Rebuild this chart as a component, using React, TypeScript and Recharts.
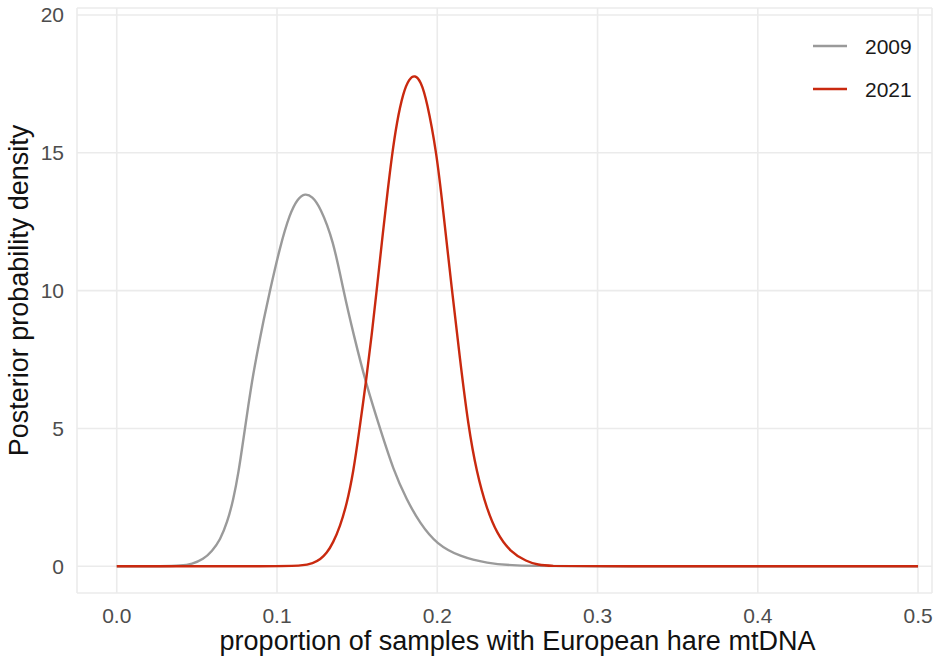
import React from "react";
import { LineChart, Line, XAxis, YAxis, CartesianGrid, Legend, Label } from "recharts";

// proportion of samples with European hare mtDNA (x) vs posterior density (y)
const x2009 = [0, 0.03, 0.04, 0.047, 0.054, 0.0595, 0.0645, 0.069, 0.0727, 0.076, 0.079, 0.082, 0.0852, 0.0885, 0.0915, 0.0956, 0.1019, 0.108, 0.113, 0.1175, 0.122, 0.1268, 0.1351, 0.1414, 0.1476, 0.156, 0.1643, 0.1726, 0.1809, 0.1892, 0.1996, 0.2142, 0.2308, 0.2495, 0.27, 0.5];
const y2009 = [0, 0, 0.02, 0.08, 0.25, 0.55, 0.95, 1.6, 2.4, 3.4, 4.6, 5.8, 7.0, 8.0, 8.9, 10.0, 11.6, 12.8, 13.35, 13.53, 13.42, 13.05, 11.84, 10.0, 8.45, 6.52, 5.0, 3.49, 2.41, 1.56, 0.8, 0.35, 0.11, 0.02, 0, 0];

const x2021 = [0, 0.105, 0.115, 0.1227, 0.127, 0.131, 0.135, 0.1393, 0.1435, 0.1476, 0.1513, 0.156, 0.1591, 0.1618, 0.1653, 0.1694, 0.1716, 0.1747, 0.1788, 0.1825, 0.1861, 0.1897, 0.1934, 0.1996, 0.2035, 0.209, 0.2142, 0.2193, 0.2246, 0.2308, 0.2371, 0.2454, 0.2558, 0.263, 0.2703, 0.29, 0.5];
const y2021 = [0, 0, 0.02, 0.11, 0.25, 0.47, 0.85, 1.44, 2.25, 3.4, 4.9, 6.9, 8.4, 9.8, 11.7, 13.8, 14.85, 16.1, 17.2, 17.7, 17.83, 17.6, 16.92, 15.0, 13.0, 10.1, 7.5, 5.1, 3.4, 2.1, 1.2, 0.53, 0.17, 0.05, 0.01, 0, 0];

const xTicks = [0, 0.1, 0.2, 0.3, 0.4, 0.5];
const yTicks = [0, 5, 10, 15, 20];

const seriesNames = ["2009", "2021"];
const seriesColors = ["#9a9a9a", "#c9290f"];

const toPoints = (xs: number[], ys: number[]) => xs.map((x, i) => ({ x, y: ys[i] }));
const data2009 = toPoints(x2009, y2009);
const data2021 = toPoints(x2021, y2021);

const FONT = '"Liberation Sans", Arial, Helvetica, sans-serif';

const LegendContent = () => (
  <div style={{ fontFamily: FONT }}>
    {seriesNames.map((name, i) => (
      <div key={name} style={{ display: "flex", alignItems: "center", height: 43 }}>
        <svg width={34} height={4} style={{ display: "block" }}>
          <line x1={0} y1={2} x2={34} y2={2} stroke={seriesColors[i]} strokeWidth={2.6} />
        </svg>
        <span style={{ marginLeft: 18, fontSize: 21, color: "#1a1a1a", lineHeight: "43px" }}>{name}</span>
      </div>
    ))}
  </div>
);

export default function App() {
  return (
    <div style={{ position: "absolute", left: 0, top: 0, width: 939, height: 658, background: "#fff" }}>
      <LineChart width={939} height={658} margin={{ top: 8, right: 7, bottom: 0, left: 0 }}>
        <CartesianGrid stroke="#ebebeb" strokeWidth={1.6} />
        <XAxis
          type="number"
          dataKey="x"
          domain={[-0.0248, 0.5087]}
          allowDataOverflow
          ticks={xTicks}
          tickFormatter={(v: number) => v.toFixed(1)}
          axisLine={false}
          tickLine={false}
          tickSize={0}
          tickMargin={15}
          height={65}
          tick={{ fill: "#4d4d4d", fontSize: 21, fontFamily: FONT }}
        >
          <Label
            content={(props: any) => {
              const vb = props.viewBox || {};
              return (
                <text
                  x={vb.x + vb.width / 2 + 13}
                  y={vb.y + 57}
                  textAnchor="middle"
                  fontSize={27}
                  fontFamily={FONT}
                  fill="#111"
                >
                  proportion of samples with European hare mtDNA
                </text>
              );
            }}
          />
        </XAxis>
        <YAxis
          type="number"
          dataKey="y"
          domain={[-0.969, 20.254]}
          allowDataOverflow
          ticks={yTicks}
          axisLine={false}
          tickLine={false}
          tickSize={0}
          tickMargin={13}
          width={77}
          tick={{ fill: "#4d4d4d", fontSize: 21, fontFamily: FONT }}
        >
          <Label
            content={(props: any) => {
              const vb = props.viewBox || {};
              const cy = vb.y + vb.height / 2 - 10;
              return (
                <text
                  x={28}
                  y={cy}
                  transform={`rotate(-90, 28, ${cy})`}
                  textAnchor="middle"
                  fontSize={27}
                  fontFamily={FONT}
                  fill="#111"
                >
                  Posterior probability density
                </text>
              );
            }}
          />
        </YAxis>
        <Legend
          layout="vertical"
          align="center"
          verticalAlign="middle"
          wrapperStyle={{ left: 813, top: 24.5, width: 120 }}
          content={<LegendContent />}
        />
        <Line
          data={data2009}
          dataKey="y"
          name={seriesNames[0]}
          type="basis"
          stroke={seriesColors[0]}
          strokeWidth={2.4}
          dot={false}
          activeDot={false}
          isAnimationActive={false}
        />
        <Line
          data={data2021}
          dataKey="y"
          name={seriesNames[1]}
          type="basis"
          stroke={seriesColors[1]}
          strokeWidth={2.4}
          dot={false}
          activeDot={false}
          isAnimationActive={false}
        />
      </LineChart>
    </div>
  );
}
